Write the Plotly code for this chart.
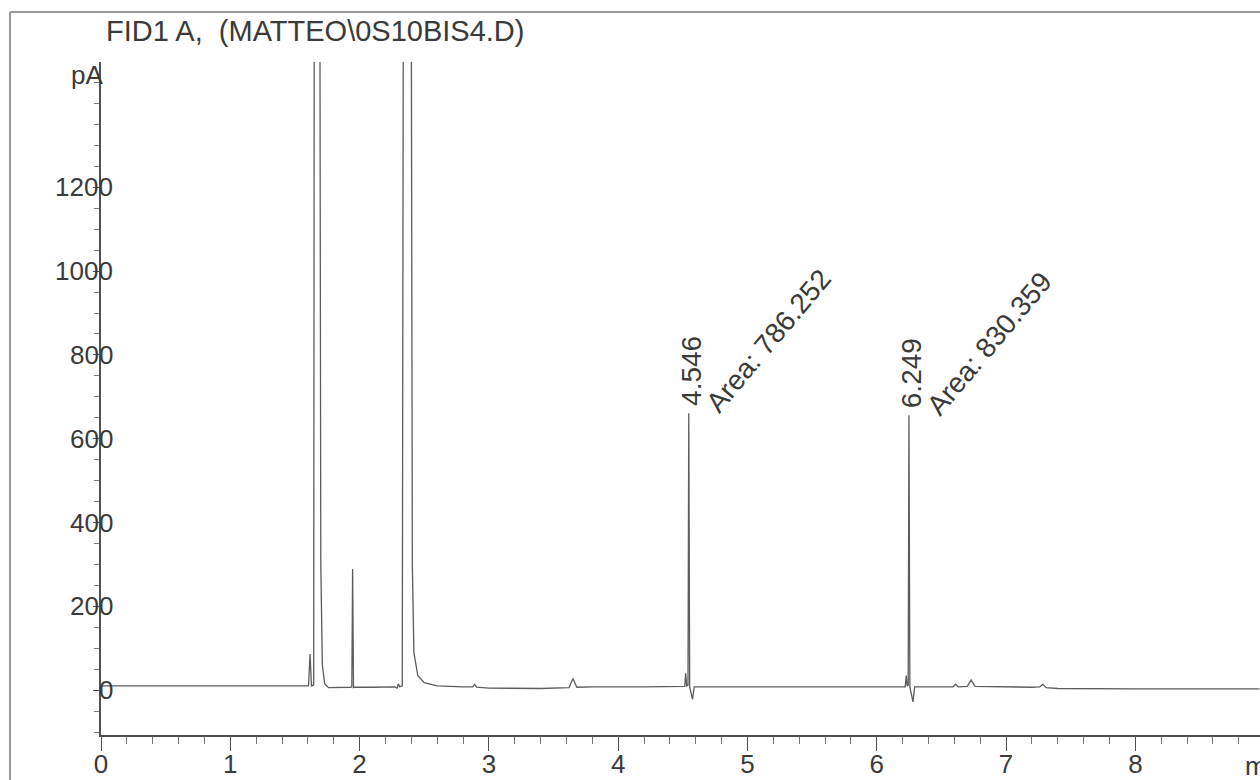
import plotly.graph_objects as go

# ---- data ----
time_min = [
    0.00, 1.58, 1.605, 1.617, 1.628, 1.645, 1.649, 1.670, 1.692, 1.700, 1.712, 1.73, 1.76, 1.85,
    1.93, 1.940, 1.946, 1.953, 1.965, 2.10, 2.27, 2.29, 2.30, 2.31, 2.330, 2.338, 2.370,
    2.400, 2.408, 2.42, 2.45, 2.50, 2.60, 2.80, 2.875, 2.89, 2.905, 3.00, 3.40, 3.62,
    3.65, 3.68, 3.80, 4.20, 4.515, 4.522, 4.530, 4.540, 4.546, 4.553, 4.575, 4.588,
    4.80, 5.40, 6.00, 6.22, 6.228, 6.235, 6.243, 6.249, 6.256, 6.280, 6.293, 6.45,
    6.59, 6.61, 6.63, 6.70, 6.73, 6.76, 6.90, 7.20, 7.26, 7.285, 7.31, 7.40, 8.00, 8.96,
]
signal_pA = [
    10, 9, 10, 86, 10, 12, 1600, 6000, 1600, 300, 60, 15, 6, 6,
    7, 8, 289, 6, 7, 7, 8, 5, 15, 8, 10, 1600, 8000,
    1600, 300, 90, 35, 18, 10, 8, 8, 14, 7, 5, 4, 6,
    28, 7, 8, 8, 9, 40, 10, 12, 661, 8, -22, 8,
    8, 7, 8, 8, 35, 10, 12, 656, 8, -28, 8, 8,
    8, 14, 8, 9, 24, 9, 8, 7, 8, 14, 6, 4, 3, 3,
]

peak_rt = [4.546, 6.249]
peak_height = [661, 656]
peak_rt_text = ["4.546", "6.249"]
peak_area_text = ["Area: 786.252", "Area: 830.359"]

x_tick_vals = [0, 1, 2, 3, 4, 5, 6, 7, 8]
x_tick_text = ["0", "1", "2", "3", "4", "5", "6", "7", "8"]
y_tick_vals = [0, 200, 400, 600, 800, 1000, 1200, 1400]
y_tick_text = ["0", "200", "400", "600", "800", "1000", "1200", ""]

title_text = "FID1 A,\u00a0 (MATTEO\\0S10BIS4.D)"
y_unit = "pA"
x_unit = "min"

X_RANGE = [0, 8.964]
Y_RANGE = [-107, 1499]
FONT = "Liberation Sans, Arial, sans-serif"
INK = "#3a3a3a"
AXIS = "#505050"

fig = go.Figure()
fig.add_trace(go.Scatter(
    x=time_min, y=signal_pA, mode="lines",
    line=dict(color="#5c5c5c", width=1.3),
    hoverinfo="x+y", showlegend=False,
))

annotations = []
# y tick labels (overlapping the axis line as in the original)
for v, t in zip(y_tick_vals, y_tick_text):
    if t:
        annotations.append(dict(
            x=0, xref="x", y=v, yref="y", text=t, showarrow=False,
            xanchor="right", yanchor="middle", xshift=14,
            font=dict(family=FONT, size=26, color=INK),
        ))
# unit labels
annotations.append(dict(
    x=0, xref="x", y=1468, yref="y", text=y_unit, showarrow=False,
    xanchor="right", yanchor="middle", xshift=4,
    font=dict(family=FONT, size=26, color=INK),
))
annotations.append(dict(
    x=1.0, xref="paper", y=0, yref="paper", text=x_unit, showarrow=False,
    xanchor="left", yanchor="middle", xshift=-17, yshift=-31,
    font=dict(family=FONT, size=26, color=INK),
))
# title
annotations.append(dict(
    x=0, xref="paper", y=1, yref="paper", text=title_text, showarrow=False,
    xanchor="left", yanchor="middle", xshift=3, yshift=31,
    font=dict(family=FONT, size=29, color=INK),
))
# peak labels
for rt, h, rtt, at in zip(peak_rt, peak_height, peak_rt_text, peak_area_text):
    annotations.append(dict(
        x=rt, xref="x", y=h, yref="y", text=rtt, showarrow=False,
        textangle=-90, xanchor="center", yanchor="bottom", xshift=2, yshift=5,
        font=dict(family=FONT, size=28, color=INK),
    ))
    annotations.append(dict(
        x=rt, xref="x", y=h, yref="y", text=at, showarrow=False,
        textangle=-50, xanchor="left", yanchor="bottom", xshift=9, yshift=-8,
        font=dict(family=FONT, size=28, color=INK),
    ))

# outer report frame (top and left edges)
plot_w = 1260 - 101
plot_h = 780 - 62 - 45
frame_left = (10 - 101) / plot_w
frame_top = (735 - 12) / plot_h
shapes = [
    dict(type="line", xref="paper", yref="paper", x0=frame_left, x1=1.01,
         y0=frame_top, y1=frame_top, line=dict(color="#9a9a9a", width=2)),
    dict(type="line", xref="paper", yref="paper", x0=frame_left, x1=frame_left,
         y0=frame_top, y1=-0.2, line=dict(color="#9a9a9a", width=2)),
]

fig.update_layout(
    width=1260, height=780,
    margin=dict(l=101, r=0, t=62, b=45, autoexpand=False),
    paper_bgcolor="white", plot_bgcolor="white",
    annotations=annotations, shapes=shapes,
    font=dict(family=FONT, color=INK),
    xaxis=dict(
        range=X_RANGE, showgrid=False, zeroline=False, automargin=False,
        showline=True, linecolor=AXIS, linewidth=1.5,
        tickmode="array", tickvals=x_tick_vals, ticktext=x_tick_text,
        ticks="outside", ticklen=14, tickwidth=1.3, tickcolor=AXIS,
        ticklabelstandoff=-9,
        tickfont=dict(family=FONT, size=26, color=INK),
        minor=dict(dtick=0.2, tick0=0, ticks="outside", ticklen=7,
                   tickwidth=1, tickcolor="#777777"),
    ),
    yaxis=dict(
        range=Y_RANGE, showgrid=False, zeroline=False, automargin=False,
        showline=True, linecolor=AXIS, linewidth=1.5,
        tickmode="array", tickvals=y_tick_vals, ticktext=y_tick_text,
        showticklabels=False,
        ticks="outside", ticklen=6, tickwidth=1.3, tickcolor=AXIS,
        minor=dict(dtick=50, tick0=0, ticks="outside", ticklen=5,
                   tickwidth=1, tickcolor="#777777"),
    ),
)

fig.write_html(
    "out.html",
    config={"displayModeBar": False},
    post_script="document.body.style.margin='0';document.body.style.overflow='hidden';",
)
